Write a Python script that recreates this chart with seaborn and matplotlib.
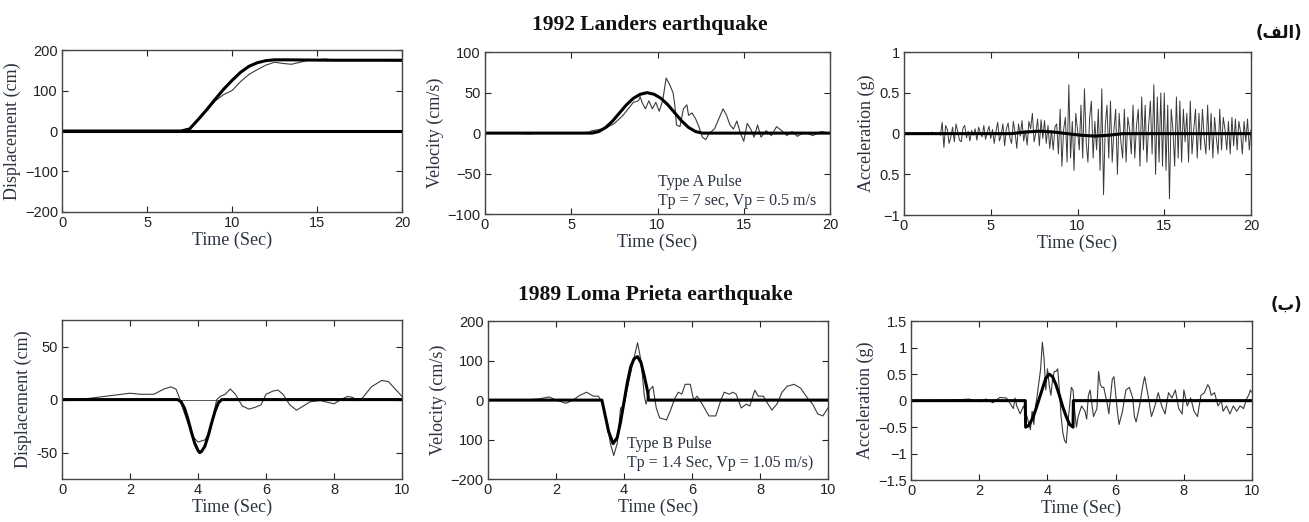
import numpy as np
import matplotlib
matplotlib.use("Agg")
import matplotlib.pyplot as plt
import seaborn as sns

# ---------------- 1992 Landers ----------------
landers_disp_pulse_t = [0, 6, 7, 7.5, 8, 8.5, 9, 9.5, 10, 10.5, 11, 11.5, 12, 12.5, 13, 16, 20]
landers_disp_pulse = [0, 0, 0, 5, 28, 52, 78, 103, 125, 145, 160, 169, 174, 176, 176, 175, 175]
landers_disp_rec_t = [0, 2, 4, 6, 7, 7.5, 8, 8.5, 9, 9.5, 10, 10.5, 11, 11.5, 12, 12.5, 13, 13.5,
                      14, 14.5, 15, 15.5, 16, 17, 18, 19, 20]
landers_disp_rec = [0, 0, 0, 0, 1, 6, 27, 50, 74, 90, 100, 122, 140, 152, 163, 170, 167, 165,
                    170, 175, 176, 178, 175, 175, 176, 174, 173]

landers_vel_pulse_t = [0, 6.2, 6.6, 7.0, 7.4, 7.8, 8.2, 8.6, 9.0, 9.4, 9.8, 10.2, 10.6, 11.0,
                       11.4, 11.8, 12.2, 12.6, 20]
landers_vel_pulse = [0, 0, 2, 7, 15, 25, 35, 43, 48, 50, 48, 43, 35, 25, 15, 7, 2, 0, 0]
landers_vel_rec_t = [0, 1, 2, 2.5, 3, 4, 5, 6, 6.2, 6.5, 7, 7.5, 8, 8.3, 8.6, 8.9, 9.0, 9.1, 9.3,
                     9.5, 9.7, 9.9, 10.1, 10.3, 10.5, 10.7, 10.9, 11.0, 11.1, 11.3, 11.5, 11.7,
                     11.8, 12.0, 12.2, 12.4, 12.6, 12.8, 13.0, 13.3, 13.6, 13.8, 14.0, 14.2,
                     14.4, 14.6, 14.8, 15.0, 15.2, 15.4, 15.6, 15.8, 16.0, 16.3, 16.6, 16.9,
                     17.2, 17.5, 17.8, 18.1, 18.5, 19.0, 19.5, 20]
landers_vel_rec = [0, 0, 0, -1, 0, 0, 0, 1, 3, 4, 6, 12, 22, 30, 38, 40, 45, 38, 30,
                   40, 30, 38, 27, 40, 68, 60, 50, 35, 10, 8, 30, 35,
                   22, 25, 18, 8, -5, -8, 0, 5, 20, 30, 22, 10,
                   5, 15, 0, -10, 12, 5, -5, 10, -5, 3, -3, 8,
                   3, -3, 2, -4, 1, -3, 2, 0]

landers_acc_pulse_t = [0, 6.2, 7.0, 7.8, 8.6, 9.4, 10.2, 11.0, 11.8, 12.6, 20]
landers_acc_pulse = [0, 0, 0.02, 0.03, 0.02, 0, -0.02, -0.03, -0.02, 0, 0]
landers_acc_dt = 0.1
landers_acc_rec = [
    0, 0, 0.01, 0, -0.01, 0, 0.01, 0, 0, 0.01,
    0, 0.01, 0, -0.01, 0.01, 0, 0.02, -0.01, 0.01, 0,
    0.01, -0.02, 0.14, -0.17, 0.1, 0.05, -0.12, -0.04, 0.08, -0.1,
    0.12, 0.02, -0.08, -0.1, 0.07, 0.1, -0.05, 0.03, -0.09, 0.04,
    -0.02, 0.06, -0.08, 0.08, 0.01, -0.04, 0.1, -0.07, 0.02, 0.09,
    -0.06, 0.05, -0.12, 0.03, 0.14, -0.09, -0.02, 0.12, -0.15, 0.06,
    0.13, -0.05, -0.12, 0.15, 0.02, -0.18, 0.12, -0.03, 0.16, -0.09,
    0.04, -0.14, 0.15, 0.06, 0.25, -0.1, 0.01, 0.18, -0.15, 0.17,
    -0.06, 0.16, -0.12, 0.1, -0.18, 0.04, -0.2, 0.08, 0.12, -0.25,
    0.3, -0.4, 0.05, 0.2, -0.35, 0.6, -0.3, 0.15, -0.45, 0.25,
    0.05, -0.2, 0.35, -0.3, 0.55, -0.1, -0.35, 0.2, 0.4, -0.3,
    0.15, -0.2, 0.3, -0.45, 0.55, -0.75, 0.1, 0.35, -0.3, 0.4,
    -0.35, 0.05, 0.3, -0.5, 0.25, -0.1, -0.3, 0.3, -0.35, 0.2,
    0.05, -0.25, 0.35, -0.3, 0.1, 0.3, -0.4, 0.45, -0.2, 0.35,
    -0.35, 0.1, 0.4, -0.25, 0.6, -0.5, 0.45, -0.35, 0.5, -0.4,
    0.5, -0.45, 0.35, -0.8, 0.3, 0.05, -0.4, 0.45, -0.3, 0.4,
    -0.35, 0.3, -0.1, 0.25, -0.35, 0.4, -0.25, 0.05, 0.3, -0.3,
    0.25, -0.2, 0.3, -0.05, -0.25, 0.35, -0.2, 0.25, -0.3, 0.2,
    -0.05, -0.25, 0.3, -0.2, 0.2, 0.05, -0.2, 0.15, -0.25, 0.2,
    -0.15, 0.18, -0.2, 0.15, 0.02, -0.25, 0.15, -0.1, 0.18, -0.2, 0.05,
]

# ---------------- 1989 Loma Prieta ----------------
loma_disp_pulse_t = [0, 3.4, 3.5, 3.6, 3.7, 3.8, 3.9, 4.0, 4.05, 4.1, 4.2, 4.3, 4.4, 4.5, 4.6, 4.7, 10]
loma_disp_pulse = [0, 0, -2, -8, -18, -30, -41, -48, -50, -49, -44, -34, -22, -11, -3, 0, 0]
loma_disp_rec_t = [0, 0.5, 1, 1.5, 2, 2.3, 2.7, 3.0, 3.2, 3.35, 3.45, 3.55, 3.7, 3.85, 4.0, 4.2,
                   4.35, 4.45, 4.55, 4.65, 4.8, 4.95, 5.1, 5.3, 5.5, 5.7, 5.85, 6.0, 6.2, 6.35,
                   6.5, 6.7, 6.9, 7.1, 7.3, 7.6, 8.0, 8.2, 8.4, 8.55, 8.7, 8.85, 9.1, 9.4, 9.6,
                   9.8, 10.0]
loma_disp_rec = [0, 0, 2, 4, 6, 5, 5, 10, 12, 10, 2, -8, -22, -35, -40, -38,
                 -30, -15, 0, 3, 5, 10, 5, -6, -9, -7, -5, 5, 8, 9,
                 5, -5, -10, -6, -2, -1, -4, 0, 3, 2, -1, 2, 12, 18, 17,
                 10, 3]

loma_vel_pulse_t = [0, 3.35, 3.45, 3.55, 3.68, 3.8, 3.9, 4.0, 4.1, 4.2, 4.3, 4.4, 4.5, 4.6, 4.7, 4.72, 10]
loma_vel_pulse = [0, 0, -40, -80, -110, -95, -55, -5, 45, 85, 105, 110, 95, 60, 20, 0, 0]
loma_vel_rec_t = [0, 1, 1.5, 1.8, 2.0, 2.3, 2.5, 2.7, 2.9, 3.1, 3.25, 3.35, 3.5, 3.6, 3.7, 3.8,
                  3.9, 4.0, 4.1, 4.25, 4.4, 4.5, 4.6, 4.65, 4.75, 4.85, 4.95, 5.05, 5.25, 5.35,
                  5.5, 5.6, 5.7, 5.8, 5.95, 6.05, 6.15, 6.3, 6.5, 6.7, 6.85, 6.95, 7.1, 7.2,
                  7.3, 7.45, 7.6, 7.7, 7.85, 7.95, 8.1, 8.2, 8.35, 8.5, 8.65, 8.8, 9.0, 9.2,
                  9.4, 9.55, 9.7, 9.85, 10.0]
loma_vel_rec = [0, 0, 3, 8, 0, -8, 0, 12, 20, 10, 10, -5, -60, -110, -140, -110,
                -20, -15, 30, 90, 145, 100, 10, -10, 25, 35, -20, -45, -50, -30,
                5, 20, 15, 40, 40, 0, 10, -10, -40, -40, 0, 20, 15, 20,
                15, -20, -10, -15, 25, 10, 10, -5, -25, -10, 20, 35, 40, 30,
                5, -10, -35, -40, -20]

loma_acc_pulse_t = [0, 3.35, 3.36, 3.45, 3.55, 3.65, 3.75, 3.85, 3.95, 4.05, 4.15, 4.25, 4.35,
                    4.45, 4.55, 4.65, 4.75, 4.76, 10]
loma_acc_pulse = [0, 0, -0.5, -0.47, -0.35, -0.18, 0.02, 0.22, 0.42, 0.5, 0.45, 0.3, 0.1,
                  -0.12, -0.3, -0.45, -0.5, 0, 0]
loma_acc_rec_t = [0, 0.5, 1.0, 1.5, 1.7, 2.0, 2.2, 2.4, 2.6, 2.8, 2.9, 3.0, 3.05, 3.1, 3.2, 3.3,
                  3.4, 3.5, 3.55, 3.6, 3.65, 3.7, 3.8, 3.85, 3.9, 3.95, 4.0, 4.05, 4.1, 4.15,
                  4.2, 4.25, 4.3, 4.35, 4.4, 4.45, 4.5, 4.55, 4.6, 4.65, 4.7, 4.75, 4.8, 4.85,
                  4.9, 5.0, 5.1, 5.15, 5.2, 5.25, 5.35, 5.45, 5.5, 5.55, 5.6, 5.65, 5.75, 5.8,
                  5.9, 5.95, 6.05, 6.1, 6.2, 6.3, 6.4, 6.5, 6.55, 6.6, 6.7, 6.8, 6.85, 6.95,
                  7.05, 7.15, 7.25, 7.35, 7.45, 7.55, 7.65, 7.75, 7.85, 7.95, 8.0, 8.1, 8.2,
                  8.3, 8.4, 8.5, 8.6, 8.7, 8.75, 8.8, 8.9, 9.0, 9.1, 9.15, 9.25, 9.35, 9.45,
                  9.55, 9.65, 9.75, 9.85, 9.9, 9.95, 10.0]
loma_acc_rec = [0, 0, 0.01, 0.02, 0.03, -0.02, 0.03, -0.04, 0.06, 0.05, -0.05, -0.15, 0.05, -0.1,
                -0.25, -0.1, -0.3, -0.55, -0.2, -0.45, -0.1, 0.1, 0.6, 1.1, 0.8, 0.2, 0.6, 0.3,
                0.1, 0.4, 0.55, 0.55, 0.6, 0.2, -0.3, -0.6, -0.75, -0.8, -0.4, -0.1, 0.25, 0.2,
                -0.2, -0.5, -0.3, -0.1, -0.2, -0.35, 0.1, 0.2, -0.3, -0.15, 0.55, 0.3, 0.25,
                0.25, -0.05, -0.25, 0.4, 0.45, -0.2, -0.45, -0.2, 0.2, 0.25, 0.05, -0.3, -0.4,
                -0.1, 0.3, 0.45, 0.1, -0.3, -0.1, 0.15, -0.1, -0.25, 0.15, 0.05, 0.2, -0.15,
                -0.25, 0.2, -0.1, 0.05, -0.2, -0.3, 0.1, 0.15, 0.3, 0.25, 0.1, 0.15, -0.1, 0.0,
                -0.2, -0.1, -0.25, -0.1, -0.2, -0.1, -0.15, 0.05, 0.1, 0.2, 0.15]

# ---------------- style ----------------
sns.set_theme(style="ticks")
plt.rcParams["font.family"] = ["Liberation Sans", "DejaVu Sans"]
plt.rcParams["axes.edgecolor"] = "#444444"
plt.rcParams["axes.linewidth"] = 1.0

THICK = dict(color="black", linewidth=2.2)
THIN = dict(color="#3a3a3a", linewidth=0.8)
LABEL_FONT = dict(family="Liberation Serif", fontsize=13, color="#2b3340")
NOTE_FONT = dict(family="Liberation Serif", fontsize=11.5, color="#2b3340")


def trace(ax, t, v, style):
    sns.lineplot(x=t, y=v, ax=ax, estimator=None, sort=False, legend=False, **style)


def dress(ax, xlim, xticks, ylim, yticks, yticklabels, ylabel):
    ax.set_xlim(*xlim)
    ax.set_ylim(*ylim)
    ax.set_xticks(xticks)
    ax.set_xticklabels([str(x) for x in xticks])
    ax.set_yticks(yticks)
    ax.set_yticklabels(yticklabels)
    ax.tick_params(direction="in", length=4, width=0.8, top=True, right=True,
                   labelsize=10.5, pad=3, colors="#222222")
    ax.set_xlabel("Time (Sec)", labelpad=1, **LABEL_FONT)
    ax.set_ylabel(ylabel, labelpad=3, **LABEL_FONT)


fig = plt.figure(figsize=(13.09, 5.22), dpi=100)

ax1 = fig.add_axes([0.0474, 0.594, 0.2597, 0.310])
ax2 = fig.add_axes([0.3705, 0.590, 0.2636, 0.310])
ax3 = fig.add_axes([0.6906, 0.588, 0.2651, 0.312])
ax4 = fig.add_axes([0.0474, 0.082, 0.2597, 0.305])
ax5 = fig.add_axes([0.3728, 0.082, 0.2597, 0.303])
ax6 = fig.add_axes([0.6960, 0.080, 0.2605, 0.305])

# Landers displacement
ax1.axhline(0, **THICK)
trace(ax1, landers_disp_rec_t, landers_disp_rec, THIN)
trace(ax1, landers_disp_pulse_t, landers_disp_pulse, THICK)
dress(ax1, (0, 20), [0, 5, 10, 15, 20], (-200, 200), [-200, -100, 0, 100, 200],
      ["\u2212200", "\u2212100", "0", "100", "200"], "Displacement (cm)")

# Landers velocity
trace(ax2, landers_vel_rec_t, landers_vel_rec, THIN)
trace(ax2, landers_vel_pulse_t, landers_vel_pulse, THICK)
dress(ax2, (0, 20), [0, 5, 10, 15, 20], (-100, 100), [-100, -50, 0, 50, 100],
      ["\u2212100", "\u221250", "0", "50", "100"], "Velocity (cm/s)")
ax2.text(10.0, -61, "Type A Pulse", va="center", ha="left", **NOTE_FONT)
ax2.text(10.0, -84, "Tp = 7 sec, Vp = 0.5 m/s", va="center", ha="left", **NOTE_FONT)

# Landers acceleration
landers_acc_t = np.round(np.arange(len(landers_acc_rec)) * landers_acc_dt, 2)
trace(ax3, landers_acc_t, landers_acc_rec, dict(color="#3a3a3a", linewidth=0.7))
trace(ax3, landers_acc_pulse_t, landers_acc_pulse, THICK)
dress(ax3, (0, 20), [0, 5, 10, 15, 20], (-1, 1), [-1, -0.5, 0, 0.5, 1],
      ["\u22121", "0.5", "0", "0.5", "1"], "Acceleration (g)")

# Loma Prieta displacement
ax4.axhline(0, color="#555555", linewidth=0.7)
trace(ax4, loma_disp_rec_t, loma_disp_rec, THIN)
trace(ax4, loma_disp_pulse_t, loma_disp_pulse, THICK)
dress(ax4, (0, 10), [0, 2, 4, 6, 8, 10], (-75, 75), [-50, 0, 50],
      ["-50", "0", "50"], "Displacement (cm)")

# Loma Prieta velocity
trace(ax5, loma_vel_rec_t, loma_vel_rec, THIN)
trace(ax5, loma_vel_pulse_t, loma_vel_pulse, THICK)
dress(ax5, (0, 10), [0, 2, 4, 6, 8, 10], (-200, 200), [-200, -100, 0, 100, 200],
      ["\u2212200", "100", "0", "100", "200"], "Velocity (cm/s)")
ax5.text(4.1, -111, "Type B Pulse", va="center", ha="left", **NOTE_FONT)
ax5.text(4.1, -160, "Tp = 1.4 Sec, Vp = 1.05 m/s)", va="center", ha="left", **NOTE_FONT)

# Loma Prieta acceleration
trace(ax6, loma_acc_rec_t, loma_acc_rec, THIN)
trace(ax6, loma_acc_pulse_t, loma_acc_pulse, THICK)
dress(ax6, (0, 10), [0, 2, 4, 6, 8, 10], (-1.5, 1.5), [-1.5, -1, -0.5, 0, 0.5, 1, 1.5],
      ["\u22121.5", "\u22121", "\u22120.5", "0", "0.5", "1", "1.5"], "Acceleration (g)")

# titles and panel tags
fig.text(0.4965, 1 - 25 / 522, "1992 Landers earthquake", ha="center", va="center",
         family="Liberation Serif", fontweight="bold", fontsize=15.5, color="#111111")
fig.text(0.5005, 1 - 295 / 522, "1989 Loma Prieta earthquake", ha="center", va="center",
         family="Liberation Serif", fontweight="bold", fontsize=15.5, color="#111111")
# Arabic tags written in visual (shaped) order: (الف) and (ب)
fig.text(0.995, 1 - 33 / 522, "(\uFED2\uFEDF\uFE8D)", ha="right", va="center",
         family="DejaVu Sans", fontweight="bold", fontsize=12, color="#111111")
fig.text(0.995, 1 - 305 / 522, "(\uFE8F)", ha="right", va="center",
         family="DejaVu Sans", fontweight="bold", fontsize=12, color="#111111")

fig.savefig("out.png", dpi=100)
